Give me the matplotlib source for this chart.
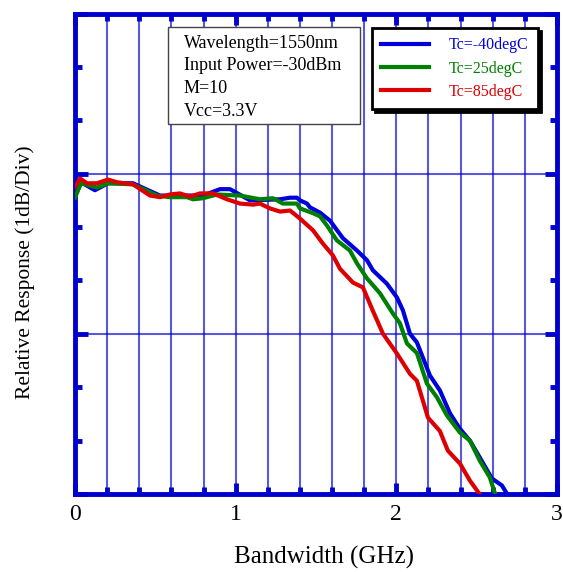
import matplotlib
matplotlib.use('Agg')
import matplotlib.pyplot as plt
from matplotlib.patches import Rectangle
from matplotlib.ticker import MultipleLocator

plt.rcParams['font.family'] = ['Liberation Serif', 'DejaVu Serif']

# bandwidth (GHz) and relative response (dB)
freq_m40 = [0.0, 0.037, 0.124, 0.205, 0.361, 0.529, 0.797, 0.902, 0.965, 1.089, 1.276,
            1.338, 1.381, 1.40, 1.444, 1.462, 1.525, 1.587, 1.668, 1.755, 1.817, 1.854,
            1.941, 2.004, 2.041, 2.085, 2.128, 2.209, 2.271, 2.334, 2.396, 2.458, 2.520,
            2.595, 2.657, 2.70]
resp_m40 = [-0.42, -0.16, -0.31, -0.18, -0.18, -0.41, -0.41, -0.29, -0.29, -0.50, -0.48,
            -0.45, -0.45, -0.50, -0.56, -0.63, -0.73, -0.88, -1.21, -1.44, -1.62, -1.81,
            -2.06, -2.32, -2.56, -3.00, -3.16, -3.78, -4.06, -4.49, -4.78, -5.00, -5.32,
            -5.71, -5.84, -6.05]

freq_25 = [0.0, 0.037, 0.137, 0.205, 0.361, 0.510, 0.591, 0.697, 0.734, 0.797, 0.884,
           1.027, 1.151, 1.232, 1.294, 1.381, 1.40, 1.481, 1.525, 1.568, 1.630, 1.711,
           1.755, 1.817, 1.898, 1.979, 2.022, 2.066, 2.128, 2.190, 2.253, 2.315, 2.396,
           2.458, 2.520, 2.582, 2.62]
resp_25 = [-0.45, -0.18, -0.26, -0.18, -0.20, -0.41, -0.44, -0.44, -0.48, -0.46, -0.39,
           -0.41, -0.48, -0.46, -0.56, -0.56, -0.65, -0.74, -0.80, -0.97, -1.25, -1.44,
           -1.68, -1.96, -2.24, -2.62, -2.80, -3.18, -3.36, -3.93, -4.19, -4.53, -4.85,
           -5.00, -5.38, -5.69, -6.05]

freq_85 = [0.0, 0.031, 0.075, 0.137, 0.205, 0.261, 0.361, 0.467, 0.529, 0.591, 0.653,
           0.716, 0.778, 0.859, 0.946, 1.027, 1.108, 1.151, 1.213, 1.276, 1.338, 1.40,
           1.481, 1.543, 1.605, 1.649, 1.730, 1.792, 1.854, 1.917, 2.004, 2.085, 2.128,
           2.197, 2.271, 2.321, 2.396, 2.458, 2.53]
resp_85 = [-0.25, -0.09, -0.18, -0.18, -0.11, -0.16, -0.20, -0.41, -0.44, -0.39, -0.37,
           -0.43, -0.37, -0.37, -0.48, -0.56, -0.58, -0.56, -0.65, -0.71, -0.69, -0.84,
           -1.06, -1.31, -1.53, -1.78, -2.04, -2.13, -2.57, -3.00, -3.37, -3.75, -3.88,
           -4.57, -4.82, -5.19, -5.43, -5.75, -6.05]

labels = ['Tc=-40degC', 'Tc=25degC', 'Tc=85degC']
colors = ['#0000dd', '#008000', '#dd0000']
info = ['Wavelength=1550nm', 'Input Power=-30dBm', 'M=10', 'Vcc=3.3V']

frame = '#0000cc'

fig = plt.figure(figsize=(5.63, 5.72), dpi=100)
ax = fig.add_axes([75 / 563, 1 - 494 / 572, 482 / 563, 480.5 / 572])

for fr, rs, lab, c in zip([freq_m40, freq_25, freq_85], [resp_m40, resp_25, resp_85],
                          labels, colors):
    ax.plot(fr, rs, color=c, lw=3, label=lab, zorder=3)

ax.set_xlim(0, 3)
ax.set_ylim(-6, 3)

ax.xaxis.set_major_locator(MultipleLocator(1))
ax.xaxis.set_minor_locator(MultipleLocator(0.2))
ax.yaxis.set_major_locator(MultipleLocator(3))
ax.yaxis.set_minor_locator(MultipleLocator(1))
ax.set_yticklabels([])
ax.tick_params(which='both', direction='in', color=frame, top=True, right=True)
ax.tick_params(which='major', length=8, width=3.5, labelsize=17, pad=7)
ax.tick_params(which='minor', length=5, width=3.5)
ax.tick_params(axis='y', which='major', length=9)

ax.grid(which='both', axis='x', color=frame, alpha=0.65, lw=1.5)
ax.grid(which='major', axis='y', color=frame, alpha=0.65, lw=1.5)

for s in ax.spines.values():
    s.set_color(frame)
    s.set_linewidth(3.5)

ax.set_xlabel('Bandwidth (GHz)', fontsize=18)
ax.xaxis.set_label_coords(0.516, -0.108)
ax.set_ylabel('Relative Response (1dB/Div)', fontsize=15.5)
ax.yaxis.set_label_coords(-0.083, 0.462)

# conditions box
ax.add_patch(Rectangle((0.193, 0.770), 0.398, 0.202, transform=ax.transAxes,
                       facecolor='white', edgecolor='#444444', lw=1, zorder=4))
for i, t in enumerate(info):
    ax.text(0.226, 0.938 - i * 0.047, t, transform=ax.transAxes, fontsize=13,
            va='center', ha='left', zorder=5)

leg = ax.legend(loc='upper left', bbox_to_anchor=(0.616, 0.970), fontsize=11.5,
                frameon=True, fancybox=False, shadow={'color': 'black', 'alpha': 1},
                edgecolor='black', handlelength=3.0, handletextpad=1.2,
                borderpad=0.6, labelspacing=0.45, borderaxespad=0)
leg.get_frame().set_linewidth(2)
leg.set_zorder(6)
for t, c in zip(leg.get_texts(), colors):
    t.set_color(c)

fig.savefig('out.png', dpi=100)
